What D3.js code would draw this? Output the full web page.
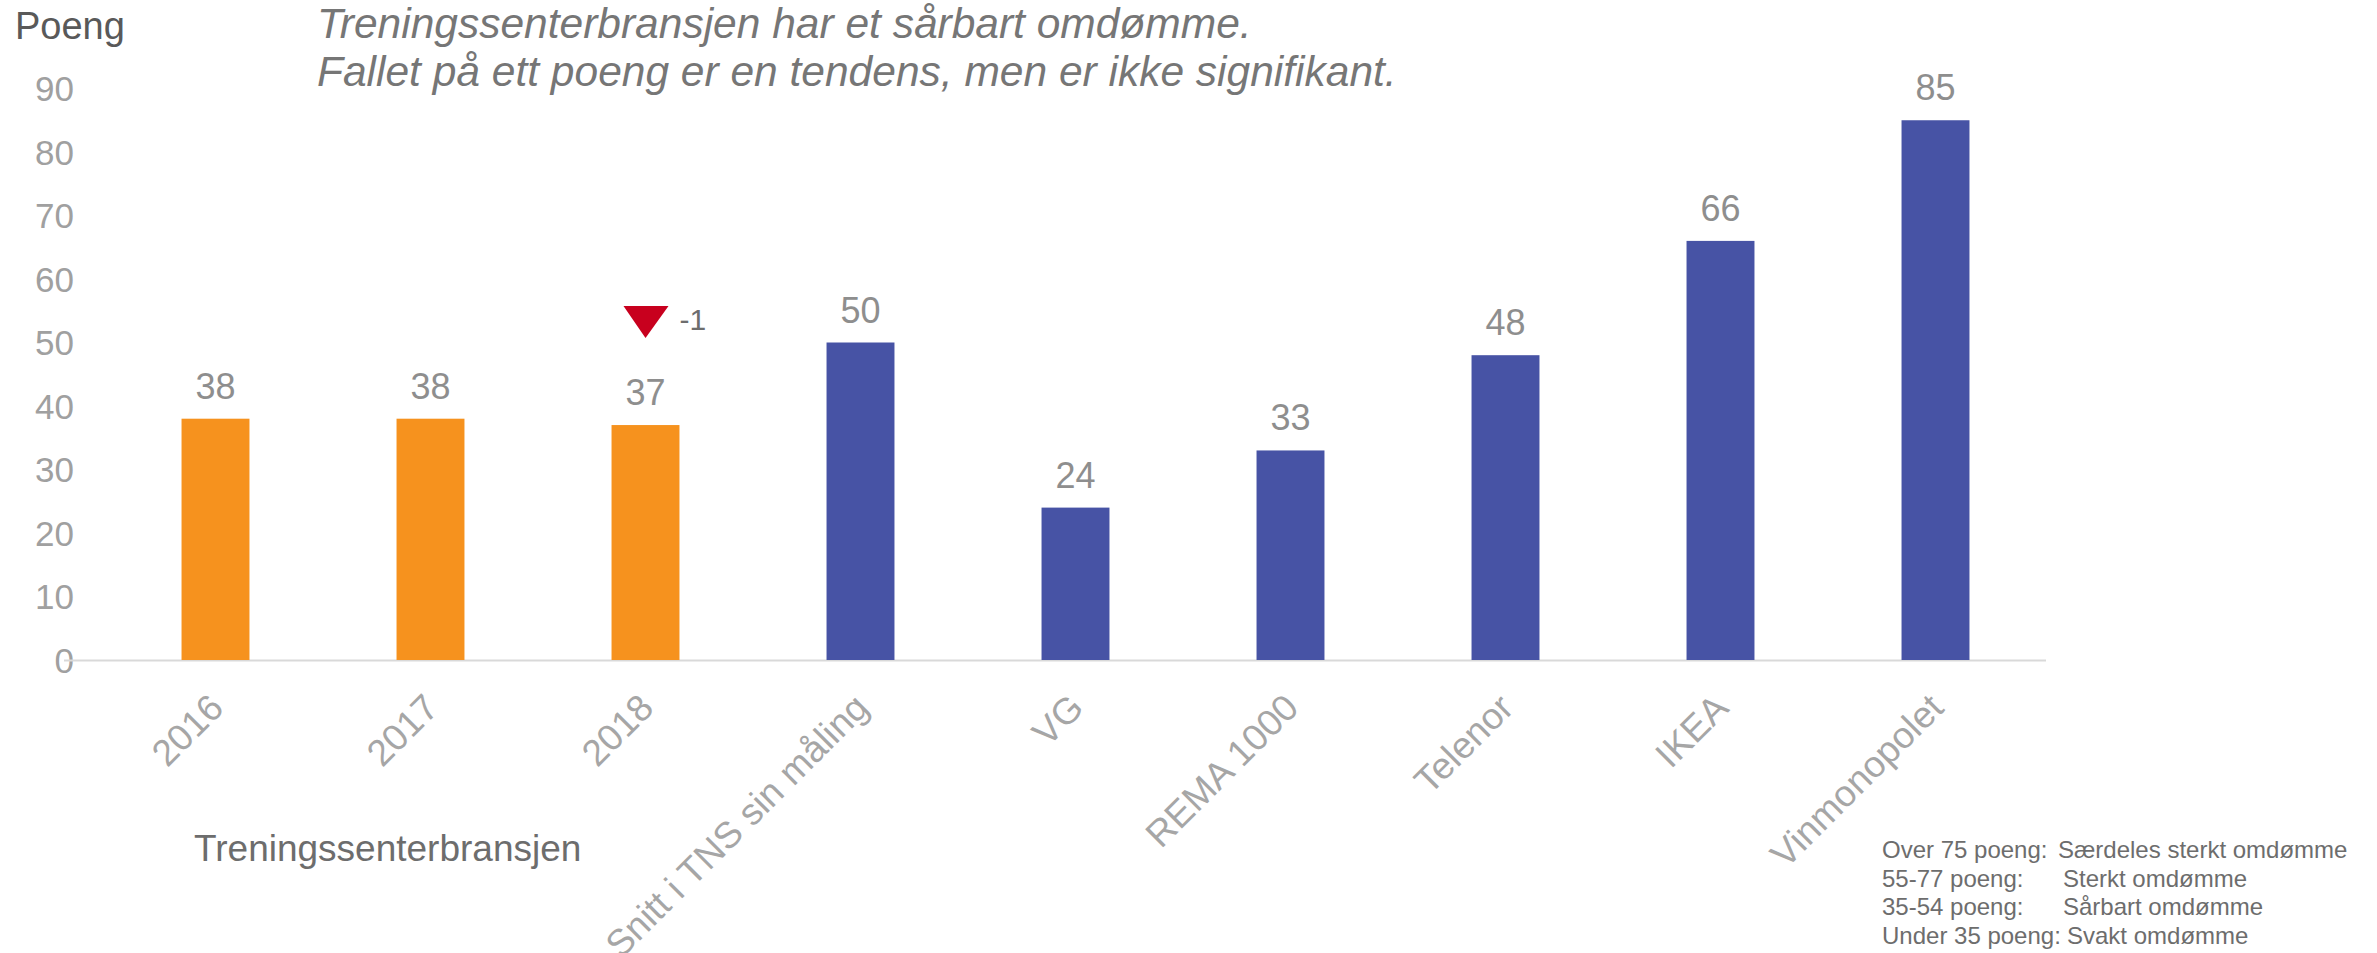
<!DOCTYPE html>
<html>
<head>
<meta charset="utf-8">
<script src="https://cdn.jsdelivr.net/npm/d3@7"></script>
<style>
  body { margin: 0; background: #fff; }
  svg { display: block; font-family: "Liberation Sans", Arial, sans-serif; }
</style>
</head>
<body>
<div id="chart"></div>
<script>
// data
var categories = ["2016", "2017", "2018", "Snitt i TNS sin måling", "VG", "REMA 1000", "Telenor", "IKEA", "Vinmonopolet"];
var values = [38, 38, 37, 50, 24, 33, 48, 66, 85];
var groups = ["own", "own", "own", "other", "other", "other", "other", "other", "other"];
var yTicks = [0, 10, 20, 30, 40, 50, 60, 70, 80, 90];
var titleLines = ["Treningssenterbransjen har et sårbart omdømme.", "Fallet på ett poeng er en tendens, men er ikke signifikant."];
var legendLeft = ["Over 75 poeng:", "55-77 poeng:", "35-54 poeng:", "Under 35 poeng:"];
var legendRight = ["Særdeles sterkt omdømme", "Sterkt omdømme", "Sårbart omdømme", "Svakt omdømme"];
var changeLabel = "-1";

var W = 2377, H = 953;
var colors = {own: "#F6921E", other: "#4753A5"};

var svg = d3.select("#chart").append("svg")
    .attr("width", W)
    .attr("height", H);

var x = d3.scaleBand()
    .domain(categories)
    .range([108, 2043])
    .paddingInner(0.684)
    .paddingOuter(0.342);

var y = d3.scaleLinear()
    .domain([0, 90])
    .range([660, 88.5]);

// y tick labels (no axis line)
var yAxis = d3.axisLeft(y).tickValues(yTicks).tickSize(0).tickPadding(0);
var gy = svg.append("g")
    .attr("transform", "translate(74,0)")
    .call(yAxis);
gy.select(".domain").remove();
gy.selectAll("text")
    .attr("font-size", 35)
    .attr("font-family", "Liberation Sans, Arial, sans-serif")
    .attr("fill", "#a0a0a0")
    .attr("dy", "0.35em");

// baseline
svg.append("line")
    .attr("x1", 64)
    .attr("x2", 2046)
    .attr("y1", y(0) + 0.5)
    .attr("y2", y(0) + 0.5)
    .attr("stroke", "#d9d9d9")
    .attr("stroke-width", 2);

// bars
svg.selectAll("rect.bar")
    .data(values)
    .enter().append("rect")
    .attr("class", "bar")
    .attr("x", function(d, i){ return x(categories[i]); })
    .attr("y", function(d){ return y(d); })
    .attr("width", x.bandwidth())
    .attr("height", function(d){ return y(0) - y(d); })
    .attr("fill", function(d, i){ return colors[groups[i]]; });

// value labels
svg.selectAll("text.val")
    .data(values)
    .enter().append("text")
    .attr("class", "val")
    .attr("x", function(d, i){ return x(categories[i]) + x.bandwidth() / 2; })
    .attr("y", function(d){ return y(d) - 20; })
    .attr("text-anchor", "middle")
    .attr("font-size", 36)
    .attr("fill", "#8e8e8e")
    .text(function(d){ return d; });

// category labels, rotated
var gx = svg.append("g")
    .attr("transform", "translate(0," + y(0) + ")")
    .call(d3.axisBottom(x).tickSize(0).tickPadding(0));
gx.select(".domain").remove();
gx.selectAll("text")
    .attr("font-size", 37)
    .attr("font-family", "Liberation Sans, Arial, sans-serif")
    .attr("fill", "#a6a6a6")
    .attr("text-anchor", "end")
    .attr("dy", 0)
    .attr("transform", "translate(10,50) rotate(-45)");

// change marker over 2018
var cx2018 = x("2018") + x.bandwidth() / 2;
var triTop = y(37) - 119;
svg.append("path")
    .attr("d", d3.line()([[cx2018 - 22, triTop], [cx2018 + 23, triTop], [cx2018, triTop + 32]]) + "Z")
    .attr("fill", "#C8001E");
svg.append("text")
    .attr("x", cx2018 + 34)
    .attr("y", triTop + 24)
    .attr("font-size", 30)
    .attr("fill", "#6d6d6d")
    .text(changeLabel);

// title
svg.selectAll("text.title")
    .data(titleLines)
    .enter().append("text")
    .attr("class", "title")
    .attr("x", 317)
    .attr("y", function(d, i){ return 38 + i * 48; })
    .attr("font-size", 42.5)
    .attr("font-style", "italic")
    .attr("fill", "#767676")
    .text(function(d){ return d; });

// y axis unit
svg.append("text")
    .attr("x", 15)
    .attr("y", 39)
    .attr("font-size", 38)
    .attr("fill", "#595959")
    .text("Poeng");

// group label
svg.append("text")
    .attr("x", 194)
    .attr("y", 861)
    .attr("font-size", 37)
    .attr("fill", "#6d6d6d")
    .text("Treningssenterbransjen");

// scale legend
var rightX = [2058, 2063, 2063, 2067];
var lg = svg.append("g").attr("font-size", 24).attr("fill", "#6d6d6d");
legendLeft.forEach(function(t, i){
    var ly = 858 + i * 28.5;
    lg.append("text").attr("x", 1882).attr("y", ly).text(t);
    lg.append("text").attr("x", rightX[i]).attr("y", ly).text(legendRight[i]);
});
</script>
</body>
</html>
